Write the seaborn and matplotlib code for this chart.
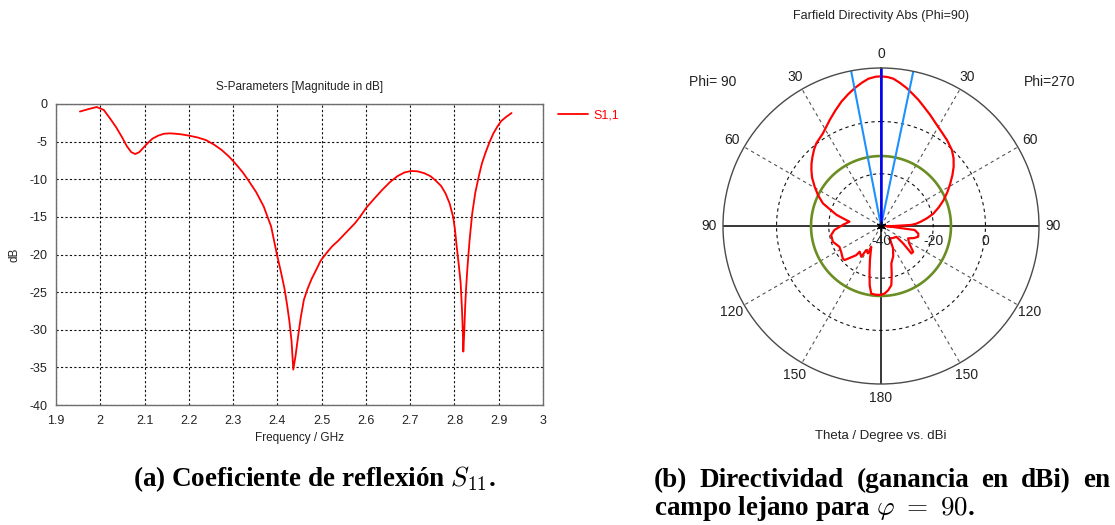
import matplotlib
matplotlib.use("Agg")
import numpy as np
import pandas as pd
import seaborn as sns
import matplotlib.pyplot as plt

# ---------------- data ----------------
freq_ghz = [1.954, 1.975, 1.992, 2.008, 2.023, 2.036, 2.049, 2.060, 2.070, 2.079,
            2.088, 2.096, 2.107, 2.118, 2.131, 2.144, 2.157, 2.170, 2.185, 2.200,
            2.220, 2.239, 2.257, 2.274, 2.291, 2.308, 2.322, 2.334, 2.352, 2.369,
            2.386, 2.399, 2.408, 2.416, 2.422, 2.427, 2.432, 2.436, 2.441, 2.447,
            2.453, 2.460, 2.468, 2.477, 2.488, 2.498, 2.511, 2.524, 2.537, 2.550,
            2.563, 2.576, 2.589, 2.602, 2.620, 2.637, 2.654, 2.671, 2.687, 2.702,
            2.717, 2.732, 2.746, 2.758, 2.770, 2.780, 2.789, 2.797, 2.801, 2.805,
            2.810, 2.814, 2.817, 2.819, 2.820, 2.822, 2.824, 2.826, 2.829, 2.834,
            2.840, 2.847, 2.855, 2.862, 2.870, 2.879, 2.888, 2.897, 2.905, 2.917,
            2.929]
s11_db = [-1.0, -0.65, -0.4, -0.8, -2.0, -3.1, -4.4, -5.6, -6.4, -6.65,
          -6.4, -5.9, -5.2, -4.6, -4.2, -3.95, -3.9, -3.95, -4.05, -4.2,
          -4.45, -4.8, -5.4, -6.1, -7.0, -8.1, -9.1, -10.1, -11.7, -13.6,
          -16.3, -20.0, -22.3, -24.5, -26.7, -28.8, -31.5, -35.3, -33.5, -30.8,
          -28.3, -26.0, -24.6, -23.3, -22.0, -20.8, -19.8, -18.9, -18.2, -17.4,
          -16.6, -15.8, -14.8, -13.7, -12.5, -11.4, -10.4, -9.6, -9.1, -8.9,
          -8.95, -9.2, -9.6, -10.2, -10.9, -11.9, -13.2, -15.0, -16.6, -18.9,
          -21.5, -23.8, -27.3, -30.5, -32.9, -30.5, -27.2, -24.8, -22.0, -18.2,
          -14.6, -11.8, -9.6, -7.9, -6.5, -5.1, -3.9, -3.0, -2.3, -1.7,
          -1.2]
freq_ticks = [1.9, 2.0, 2.1, 2.2, 2.3, 2.4, 2.5, 2.6, 2.7, 2.8, 2.9, 3.0]
db_ticks = [0, -5, -10, -15, -20, -25, -30, -35, -40]
series_name = "S1,1"

theta_deg = [-180, -176, -171.8, -169.2, -166, -162, -158, -154.9, -154.5, -148.5,
             -147.3, -140.3, -139.6, -133.1, -130.4, -123, -116.6, -108.1, -100.3, -94.9,
             -88, -82.2, -79, -76, -72, -68.8, -64, -59.4, -55, -51.2,
             -48, -44.7, -41, -38, -32, -25.8, -21.5, -17.6, -14, -10.7,
             -7.5, -4.9, -2, 0, 2.5, 4.8, 7.5, 10.6, 13.5, 16.5,
             20, 23.9, 27.5, 31.7, 37.5, 43, 47, 50.8, 54.5, 58.5,
             63, 67.6, 72, 76.7, 80.5, 84.1, 86.5, 88, 90, 92,
             94, 95.7, 96.8, 101.6, 106.1, 110, 114.5, 121, 128.8, 132,
             128.2, 125, 135, 144.7, 151.7, 158, 164.6, 167.5, 170.1, 173.5,
             176.9, 180]
directivity_dbi = [-13.6, -13.6, -13.8, -16.9, -21.8, -26.3, -29.5, -31.2, -28.4, -29.2,
                   -26, -27.2, -25.3, -20.9, -20.8, -21.8, -22.2, -20.6, -20.6, -22.1,
                   -25.5, -27.8, -25.5, -22.5, -19.5, -16.2, -13.2, -10.5, -7.8, -5.8,
                   -4.2, -2.7, -1.0, 0.2, 1.9, 5.1, 7.6, 10.0, 12.0, 13.8,
                   15.4, 16.6, 17.2, 17.3, 17.1, 16.6, 15.3, 13.7, 12.0, 10.4,
                   8.4, 6.5, 4.8, 3.2, 1.5, -0.2, -2.0, -4.1, -6.4, -8.9,
                   -11.5, -14.1, -16.7, -19.4, -22.2, -24.9, -26.7, -28.5, -35, -38,
                   -36, -33.4, -27, -25.4, -25.2, -26.5, -28.6, -27.5, -24.2, -24.3,
                   -29.2, -32.8, -33.5, -34.2, -30.3, -27.5, -25.1, -21.0, -17, -15.3,
                   -14.1, -13.7]
sidelobe_level_dbi = -13.2
main_lobe_dir_deg = 0.0
beamwidth_edges_deg = [-10.9, 11.8]
r_min, r_max = -40.0, 20.5
r_label_values = [-40, -20, 0]
r_dashed_rings = [-20, 0]
theta_label_angles = [0, 30, 60, 90, 120, 150, 180, 210, 240, 270, 300, 330]
theta_label_texts = ["0", "30", "60", "90", "120", "150", "180", "150", "120", "90", "60", "30"]

# ---------------- style ----------------
sns.set_theme(style="white")
plt.rcParams["font.family"] = ["Liberation Sans", "DejaVu Sans"]
plt.rcParams["mathtext.fontset"] = "cm"

W, H = 1115, 525
fig = plt.figure(figsize=(W / 100, H / 100), dpi=100)


def fx(x):
    return x / W


def fy(y):
    return 1 - y / H


TXT = "#222222"

# ---------------- left: S-parameters ----------------
ax = fig.add_axes([fx(56), fy(405), 487 / W, 301 / H])
df = pd.DataFrame({"Frequency": freq_ghz, "S11": s11_db})
sns.lineplot(data=df, x="Frequency", y="S11", ax=ax, color="#ff0000", lw=1.3,
             sort=False, estimator=None, label=series_name)
ax.set_xlim(1.9, 3.0)
ax.set_ylim(-40, 0)
ax.set_xticks(freq_ticks)
ax.set_xticklabels([f"{t:g}" for t in freq_ticks])
ax.set_yticks(db_ticks)
ax.set_yticklabels([str(t) for t in db_ticks])
ax.tick_params(length=0, labelsize=9, labelcolor=TXT)
ax.tick_params(axis="x", pad=7)
ax.tick_params(axis="y", pad=6)
ax.grid(True, color="#111111", lw=0.8, ls=(0, (2, 2)))
for s in ax.spines.values():
    s.set_color("#6e6e6e")
    s.set_linewidth(1.0)
ax.set_xlabel("")
ax.set_ylabel("")
ax.legend(loc="center left", bbox_to_anchor=(1.030, 0.961), frameon=False,
          borderaxespad=0, borderpad=0, handlelength=2.4, handletextpad=0.45,
          fontsize=9, labelcolor="#ff0000")
fig.text(fx(299.5), fy(87), "S-Parameters [Magnitude in dB]", ha="center", va="center",
         fontsize=8.5, color=TXT)
fig.text(fx(299.5), fy(438), "Frequency / GHz", ha="center", va="center",
         fontsize=8.5, color=TXT)
fig.text(fx(14), fy(255), "dB", ha="center", va="center", rotation=90,
         fontsize=8.5, color=TXT)

# ---------------- right: polar farfield ----------------
pax = fig.add_axes([fx(723), fy(384), 316 / W, 316 / H], projection="polar")
pax.set_theta_zero_location("N")
pax.set_theta_direction(-1)
pax.set_ylim(r_min, r_max)
pax.grid(False)
pax.set_xticks([])
pax.set_yticks([])
pax.spines["polar"].set_color("#4a4a4a")
pax.spines["polar"].set_linewidth(1.0)

ring = np.linspace(0, 2 * np.pi, 721)
for rv in r_dashed_rings:
    pax.plot(ring, np.full_like(ring, rv), color="#111111", lw=0.8, ls=(0, (3, 3)))
for a in [30, 60, 120, 150, 210, 240, 300, 330]:
    pax.plot([np.deg2rad(a)] * 2, [r_min, r_max], color="#555555", lw=0.8, ls=(0, (3, 3)))
for a in [0, 90, 180, 270]:
    pax.plot([np.deg2rad(a)] * 2, [r_min, r_max], color="black", lw=1.1)

pax.plot(ring, np.full_like(ring, sidelobe_level_dbi), color="#6b8e23", lw=1.9)

pdf = pd.DataFrame({"theta": np.deg2rad(theta_deg), "dbi": directivity_dbi})
sns.lineplot(data=pdf, x="theta", y="dbi", ax=pax, sort=False, estimator=None,
             color="#ff0000", lw=1.6)
pax.set_xlabel("")
pax.set_ylabel("")
pax.set_ylim(r_min, r_max)

for a in beamwidth_edges_deg:
    pax.plot([np.deg2rad(a)] * 2, [r_min, r_max], color="#1e90ff", lw=1.5)
pax.plot([np.deg2rad(main_lobe_dir_deg)] * 2, [r_min, r_max], color="#0000ff", lw=1.8)
pax.plot([0], [r_min], marker=(6, 2, 0), color="black", ms=7, mew=1.0)

label_r = r_min + 172 * (r_max - r_min) / 158
for a, t in zip(theta_label_angles, theta_label_texts):
    pax.text(np.deg2rad(a), label_r, t, ha="center", va="center", fontsize=10,
             color=TXT, clip_on=False)
for rv in r_label_values:
    pax.annotate(str(rv), xy=(np.deg2rad(90), rv), xytext=(0, -11),
                 textcoords="offset points", ha="center", va="center",
                 fontsize=10, color=TXT, annotation_clip=False)

fig.text(fx(881), fy(16), "Farfield Directivity Abs (Phi=90)", ha="center", va="center",
         fontsize=9, color=TXT)
fig.text(fx(713), fy(82), "Phi= 90", ha="center", va="center", fontsize=10, color=TXT)
fig.text(fx(1050), fy(82), "Phi=270", ha="center", va="center", fontsize=10, color=TXT)
fig.text(fx(881), fy(436), "Theta / Degree vs. dBi", ha="center", va="center",
         fontsize=9.5, color=TXT)

# ---------------- captions ----------------
cap_kw = dict(fontsize=19.5, family="Liberation Serif", weight="bold", color="black",
              va="baseline")
fig.text(fx(133), fy(486), r"(a) Coeficiente de reflexión $S_{11}$.", ha="left", **cap_kw)

renderer = fig.canvas.get_renderer()
words = ["(b)", "Directividad", "(ganancia", "en", "dBi)", "en"]
x_left, x_right = 654, 1110
txts = [fig.text(0, fy(487), w, ha="left", **cap_kw) for w in words]
widths = [t.get_window_extent(renderer).width for t in txts]
gap = max((x_right - x_left - sum(widths)) / (len(words) - 1), 4)
xc = x_left
for t, wd in zip(txts, widths):
    t.set_x(fx(xc))
    xc += wd + gap
fig.text(fx(654), fy(515), r"campo lejano para $\varphi\ =\ 90$.", ha="left", **cap_kw)

fig.savefig("out.png", dpi=100, facecolor="white")
